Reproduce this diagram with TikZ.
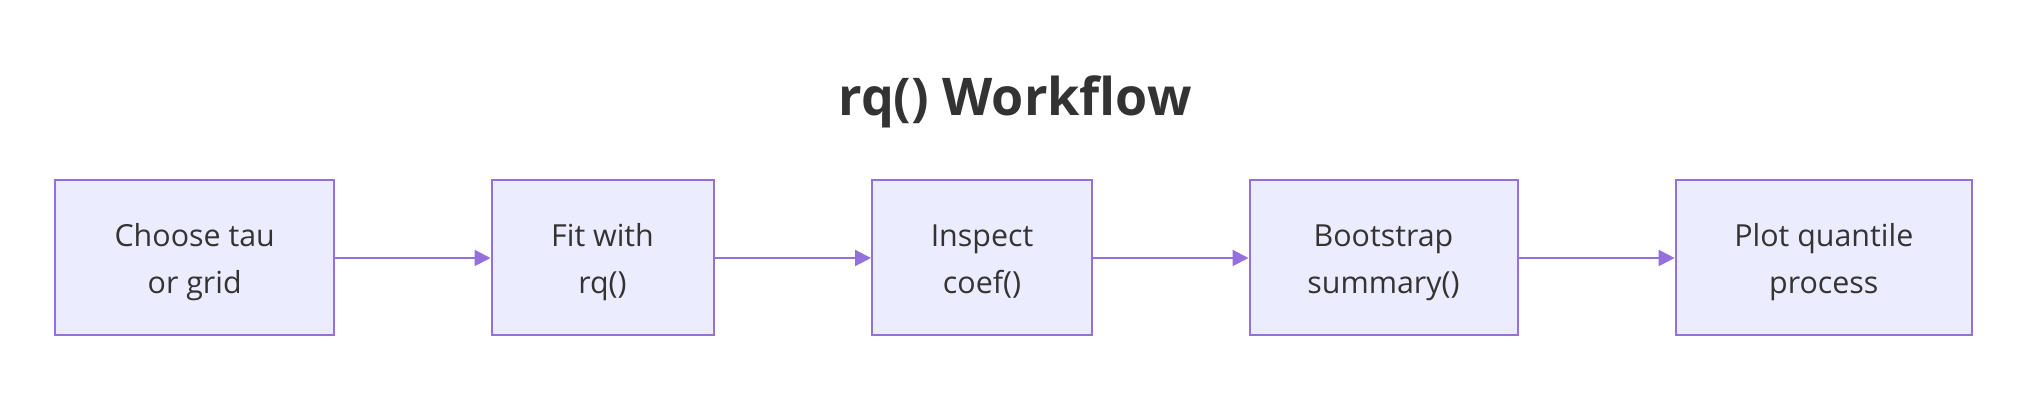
\documentclass[tikz,border=0pt]{standalone}
\usepackage{fontspec}
\setmainfont{Open Sans}
\usetikzlibrary{arrows.meta}
\definecolor{boxfill}{HTML}{ECECFF}
\definecolor{boxline}{HTML}{9370DB}
\definecolor{txt}{HTML}{333333}
\newcommand{\mytop}{\rule{0pt}{16.7pt}}
\newcommand{\mybot}{\rule[-4.5pt]{0pt}{4.5pt}}
\tikzset{
  stepbox/.style={draw=boxline, fill=boxfill, line width=1pt, minimum height=77.5pt,
    inner sep=0pt, align=center, text=txt, font=\fontsize{15.2pt}{23.5pt}\selectfont},
  flow/.style={draw=boxline, line width=1pt, -{Triangle[length=8pt,width=8pt]}},
}
\begin{document}
\begin{tikzpicture}[x=0.5pt,y=-0.5pt]
\useasboundingbox (0,0) rectangle (2044,394);
\node[anchor=base, text=txt, font=\bfseries\fontsize{26pt}{31pt}\selectfont] (title) at (1015,116) {rq() Workflow};
\node[stepbox, minimum width=139.3pt] (a) at (194.7,258) {\mytop Choose tau\\or grid\mybot};
\node[stepbox, minimum width=111pt] (b) at (602.5,258) {\mytop Fit with\\rq()\mybot};
\node[stepbox, minimum width=110pt] (c) at (982,258) {\mytop Inspect\\coef()\mybot};
\node[stepbox, minimum width=134pt] (d) at (1383.5,258) {\mytop Bootstrap\\summary()\mybot};
\node[stepbox, minimum width=148.2pt] (e) at (1823.8,258) {\mytop Plot quantile\\process\mybot};
\draw[flow] (a) -- (b);
\draw[flow] (b) -- (c);
\draw[flow] (c) -- (d);
\draw[flow] (d) -- (e);
\end{tikzpicture}
\end{document}
